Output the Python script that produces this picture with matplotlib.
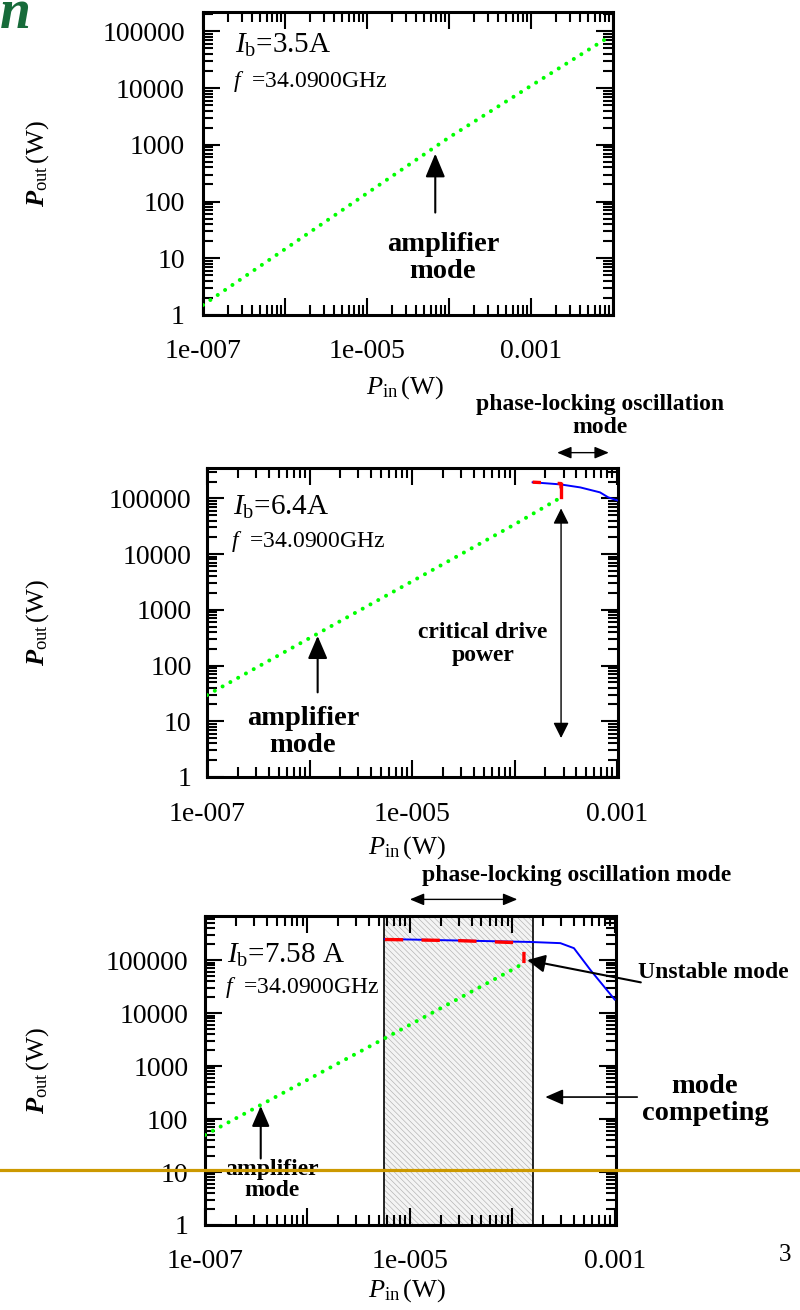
import matplotlib
matplotlib.use('Agg')
import matplotlib.pyplot as plt
import numpy as np
from matplotlib.ticker import LogLocator, FuncFormatter, NullFormatter
from matplotlib.lines import Line2D

plt.rcParams['font.family'] = ['Liberation Serif', 'DejaVu Serif']
plt.rcParams['mathtext.fontset'] = 'custom'
plt.rcParams['mathtext.rm'] = 'Liberation Serif'
plt.rcParams['mathtext.it'] = 'Liberation Serif:italic'
plt.rcParams['mathtext.bf'] = 'Liberation Serif:bold'
plt.rcParams['mathtext.bfit'] = 'Liberation Serif:italic:bold'
plt.rcParams['hatch.linewidth'] = 0.45

W, H = 800, 1310

# ---- data ----
# panel 1, Ib = 3.5 A
p1_pin = [1e-7, 1e-6, 1e-5, 1e-4, 1e-3, 8.7e-3]
p1_amp = [1.5, 14.5, 140, 1350, 11000, 78000]

# panel 2, Ib = 6.4 A
p2_pin_amp = [1e-7, 1e-6, 1e-5, 1e-4, 2.84e-4]
p2_amp = [29.5, 310, 3240, 34000, 104000]
p2_pin_osc = [1.5e-4, 2.78e-4, 4.37e-4, 6.8e-4, 8.2e-4, 1.0e-3]
p2_osc = [1.94e5, 1.78e5, 1.57e5, 1.28e5, 1.04e5, 9.2e4]
p2_pin_lock = [1.5e-4, 2.84e-4, 2.84e-4]
p2_lock = [1.95e5, 1.84e5, 1.04e5]
p2_critical = 2.84e-4

# panel 3, Ib = 7.58 A
p3_pin_amp = [1e-7, 1e-6, 1e-5, 1e-4, 1.3e-4]
p3_amp = [50, 550, 6000, 66000, 88000]
p3_pin_osc = [5.7e-6, 1.5e-4, 2.95e-4, 4.0e-4, 5.8e-4, 1.0e-3]
p3_osc = [2.5e5, 2.2e5, 2.09e5, 1.68e5, 6.5e4, 1.8e4]
p3_pin_lock = [5.7e-6, 3e-5, 1.22e-4, 1.3e-4, 1.3e-4]
p3_lock = [2.45e5, 2.33e5, 2.12e5, 1.9e5, 8.8e4]
p3_lock_region = [5.6e-6, 1.6e-4]

y_ticks = [1, 10, 100, 1000, 10000, 100000]
y_labels = ['1', '10', '100', '1000', '10000', '100000']
x_label_map = {-7: '1e-007', -5: '1e-005', -3: '0.001'}

GREEN = '#00ff00'
BLUE = '#0000ff'
RED = '#ff0000'

fig = plt.figure(figsize=(W / 100, H / 100), dpi=100)


def fx(px):
    return px / W


def fy(py):
    return 1 - py / H


def panel(left, right, top, bottom, xlim, ylim, ypad, xpad):
    ax = fig.add_axes([fx(left), fy(bottom), (right - left) / W, (bottom - top) / H])
    ax.set_xscale('log')
    ax.set_yscale('log')
    ax.set_xlim(*xlim)
    ax.set_ylim(*ylim)
    ax.xaxis.set_major_locator(LogLocator(base=10, numticks=100))
    ax.xaxis.set_minor_locator(LogLocator(base=10, subs=np.arange(2, 10), numticks=100))
    ax.xaxis.set_major_formatter(
        FuncFormatter(lambda v, pos: x_label_map.get(int(round(np.log10(v))), '')))
    ax.xaxis.set_minor_formatter(NullFormatter())
    ax.set_yticks(y_ticks)
    ax.set_yticklabels(y_labels)
    ax.yaxis.set_minor_locator(LogLocator(base=10, subs=np.arange(2, 10), numticks=100))
    ax.yaxis.set_minor_formatter(NullFormatter())
    ax.tick_params(which='both', direction='in', top=True, right=True, width=1.5, labelsize=20)
    ax.tick_params(which='major', length=12)
    ax.tick_params(which='minor', length=7)
    ax.tick_params(axis='y', pad=ypad)
    ax.tick_params(axis='x', pad=xpad)
    for s in ax.spines.values():
        s.set_linewidth(2.2)
    return ax


def green(ax, x, y):
    ax.plot(x, y, color=GREEN, lw=2.9, linestyle=(0, (0.01, 2.2)),
            dash_capstyle='round', solid_capstyle='round', zorder=4)


def arrow(ax, tip, tail, hl, hw, lw, both=False):
    style = '<|-|>' if both else '-|>'
    ax.annotate('', xy=tip, xytext=tail, annotation_clip=False,
                arrowprops=dict(arrowstyle=f'{style},head_length={hl},head_width={hw}',
                                color='black', lw=lw, shrinkA=0, shrinkB=0,
                                mutation_scale=10))


def labels(xc, yc_in, yc_out):
    fig.text(fx(xc), fy(yc_in), r'$P_{\mathrm{in}}\,\mathrm{(W)}$', fontsize=19,
             ha='center', va='center')
    fig.text(fx(38), fy(yc_out), r'$\mathbfit{P}_{\mathrm{out}}\,\mathrm{(W)}$', fontsize=19,
             ha='center', va='center', rotation=90)


# ---- panel 1 ----
ax1 = panel(203, 613, 12, 315, (1e-7, 1e-2), (1, 2.2e5), 13, 17)
green(ax1, p1_pin, p1_amp)
arrow(ax1, (6.8e-5, 700), (6.8e-5, 64), 1.44, 0.6, 1.5)
fig.text(fx(443), fy(258), 'amplifier\nmode', fontsize=20.5, fontweight='bold',
         ha='center', va='center', linespacing=1.15)
fig.text(fx(235), fy(53), r'$I_{\mathrm{b}}$=3.5A', fontsize=21, ha='left', va='baseline')
fig.text(fx(233), fy(87), r'$f$  =34.0900GHz', fontsize=17, ha='left', va='baseline')
labels(405, 388, 163)

# ---- panel 2 ----
ax2 = panel(207, 618, 468, 777, (1e-7, 1.02e-3), (1, 3.5e5), 11, 18)
green(ax2, p2_pin_amp, p2_amp)
ax2.plot(p2_pin_osc, p2_osc, color=BLUE, lw=1.4, zorder=3)
ax2.plot(p2_pin_lock, p2_lock, color=RED, lw=2.4, linestyle=(0, (2.5, 5)), zorder=5)
ax2.plot(p2_pin_lock[1:], p2_lock[1:], color=RED, lw=2.4, zorder=5)
arrow(ax2, (1.2e-6, 340), (1.2e-6, 33), 1.4, 0.6, 1.5)
arrow(ax2, (p2_critical, 5.0), (p2_critical, 6.6e4), 0.94, 0.47, 1.0, both=True)
arrow(ax2, (8.3e-4, 6.6e5), (2.6e-4, 6.6e5), 0.86, 0.36, 1.0, both=True)
fig.text(fx(303), fy(732), 'amplifier\nmode', fontsize=20.5, fontweight='bold',
         ha='center', va='center', linespacing=1.15)
fig.text(fx(483), fy(644), 'critical drive\npower', fontsize=17, fontweight='bold',
         ha='center', va='center', linespacing=1.15)
fig.text(fx(600), fy(416), 'phase-locking oscillation\nmode', fontsize=17, fontweight='bold',
         ha='center', va='center', linespacing=1.15)
fig.text(fx(233), fy(515), r'$I_{\mathrm{b}}$=6.4A', fontsize=21, ha='left', va='baseline')
fig.text(fx(231), fy(547), r'$f$  =34.0900GHz', fontsize=17, ha='left', va='baseline')
labels(407, 848, 622)

# ---- panel 3 ----
ax3 = panel(205, 616, 916, 1225, (1e-7, 1.03e-3), (1, 6.8e5), 12, 17)
ax3.axvspan(*p3_lock_region, facecolor='#f4f4f4', edgecolor='#b0b0b0', hatch='\\\\\\\\\\\\',
            lw=0, zorder=0.5)
for xv in p3_lock_region:
    ax3.axvline(xv, color='black', lw=1.2, zorder=0.6)
green(ax3, p3_pin_amp, p3_amp)
ax3.plot(p3_pin_osc, p3_osc, color=BLUE, lw=1.4, zorder=3)
ax3.plot(p3_pin_lock, p3_lock, color=RED, lw=2.4, linestyle=(0, (5.5, 5.5)), zorder=5)
arrow(ax3, (3.5e-7, 177), (3.5e-7, 18), 1.25, 0.54, 1.5)
arrow(ax3, (1.4e-4, 1.0e5), (1.8e-3, 3.8e4), 1.08, 0.54, 1.5)
arrow(ax3, (2.1e-4, 260), (1.66e-3, 260), 1.08, 0.47, 1.2)
arrow(ax3, (1.12e-4, 1.4e6), (1.0e-5, 1.4e6), 0.86, 0.36, 1.0, both=True)
fig.text(fx(272), fy(1180), 'amplifier\nmode', fontsize=17, fontweight='bold',
         ha='center', va='center', linespacing=1.05)
fig.text(fx(638), fy(973), 'Unstable mode', fontsize=17, fontweight='bold',
         ha='left', va='center')
fig.text(fx(705), fy(1100), 'mode\ncompeting', fontsize=20.5, fontweight='bold',
         ha='center', va='center', linespacing=1.1)
fig.text(fx(577), fy(876), 'phase-locking oscillation mode', fontsize=17, fontweight='bold',
         ha='center', va='center')
fig.text(fx(227), fy(963), r'$I_{\mathrm{b}}$=7.58 A', fontsize=21, ha='left', va='baseline')
fig.text(fx(225), fy(993), r'$f$  =34.0900GHz', fontsize=17, ha='left', va='baseline')
labels(407, 1291, 1070)

# slide decorations
fig.add_artist(Line2D([0, 1], [fy(1170), fy(1170)], transform=fig.transFigure,
                      color='#cc9900', lw=2.3, zorder=20))
fig.text(fx(0), fy(28), 'n', fontsize=40, fontweight='bold', fontstyle='italic',
         color='#176b3a', ha='left', va='baseline')
fig.text(fx(785), fy(1255), '3', fontsize=18, ha='center', va='center')

fig.savefig('out.png', dpi=100)
